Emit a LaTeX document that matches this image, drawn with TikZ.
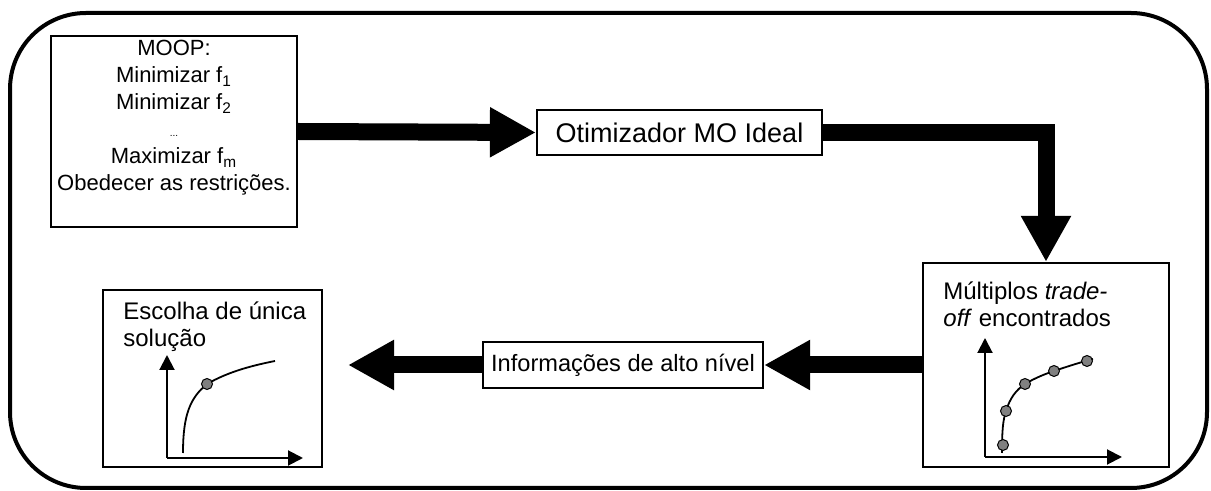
\documentclass[tikz,border=0pt]{standalone}
\usepackage{fontspec}
\setmainfont{Liberation Sans}
\usetikzlibrary{arrows.meta}
\begin{document}
\begin{tikzpicture}[x=0.5pt,y=-0.5pt,
  box/.style={draw,line width=1.1pt,inner sep=0pt},
  txt/.style={font=\fontsize{12}{13.8}\selectfont},
  bigarrow/.style={line width=8.5pt,-{Triangle[length=23pt,width=23.5pt]}},
  axis/.style={line width=1pt,-{Triangle[length=7.5pt,width=7.5pt]}},
  pt/.style={circle,draw,fill=gray,line width=0.5pt,inner sep=0pt,minimum size=5.5pt}]
\useasboundingbox (0,0) rectangle (1211,491);
\draw[line width=2pt,rounded corners=38pt] (10,13) rectangle (1207,488);
% boxes
\node[box,minimum width=123pt,minimum height=95.5pt] (moop) at (174,131.5) {};
\node[font=\fontsize{11}{13.5}\selectfont,align=center,anchor=base,inner sep=0pt] (moopt) at (174,191)
 {MOOP:\\Minimizar f\textsubscript{1}\\Minimizar f\textsubscript{2}\\{\fontsize{5}{5}\selectfont ...}\\Maximizar f\textsubscript{m}\\Obedecer as restrições.};
\node[box,font=\fontsize{13.5}{15}\selectfont,minimum width=142.5pt,minimum height=22.5pt] (opt) at (679.5,132.5) {Otimizador MO Ideal};
\node[box,minimum width=123pt,minimum height=102pt] (multi) at (1046,365) {};
\node[box,minimum width=109.5pt,minimum height=88.5pt] (esc) at (212.5,378.5) {};
\node[box,font=\fontsize{11.8}{13.8}\selectfont,minimum width=140pt,minimum height=23pt] (info) at (623,365) {Informações de alto nível};
\coordinate (tip) at (348,365);
% texts in boxes
\node[txt,anchor=base west,inner sep=0pt,align=left] (esct) at (123,347) {Escolha de única\\solução};
\node[txt,anchor=base west,inner sep=0pt,align=left] (multit) at (943,327) {Múltiplos \textit{trade-}\\\textit{off} encontrados};
% big arrows
\draw[bigarrow] (moop.east) -- (opt.west);
\draw[bigarrow] (opt.east) -| (multi.north);
\draw[bigarrow] (multi.west) -- (info.east);
\draw[bigarrow] (info.west) -- (tip);
% graph multi
\coordinate (mo) at (985,457);
\coordinate (my) at (985,338);
\coordinate (mx) at (1122,457);
\draw[axis] (mo) -- (my);
\draw[axis] (mo) -- (mx);
\draw[line width=0.9pt] (1002,453) .. controls (1002,430) and (1003,420) .. (1006,411)
  .. controls (1010,398) and (1016,390) .. (1025,384)
  .. controls (1035,378) and (1045,374) .. (1054,371)
  .. controls (1066,367) and (1078,363) .. (1093,359);
\node[pt] (p1) at (1003,445) {};
\node[pt] (p2) at (1006,411) {};
\node[pt] (p3) at (1025,384) {};
\node[pt] (p4) at (1054,371) {};
\node[pt] (p5) at (1087,361) {};
% graph esc
\coordinate (eo) at (167,458);
\coordinate (ey) at (167,355);
\coordinate (ex) at (303,458);
\draw[axis] (eo) -- (ey);
\draw[axis] (eo) -- (ex);
\draw[line width=0.9pt] (183,453) .. controls (183,415) and (190,398) .. (207,384)
  .. controls (228,372) and (250,366) .. (275,361);
\node[pt] (q1) at (207,384) {};
\end{tikzpicture}
\end{document}
